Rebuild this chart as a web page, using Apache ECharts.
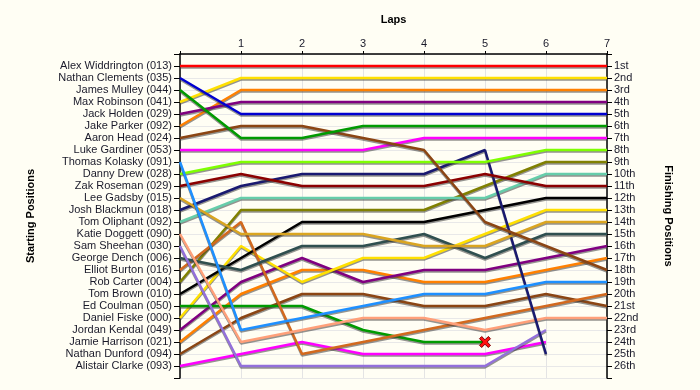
<!DOCTYPE html>
<html>
<head>
<meta charset="utf-8">
<script src="https://cdn.jsdelivr.net/npm/echarts@6/dist/echarts.min.js"></script>
<style>
html,body{margin:0;padding:0;background:#FFFEF4;}
#chart{width:700px;height:390px;}
</style>
</head>
<body>
<div id="chart"></div>
<script>
// Drivers in starting order (lap 0 position = index + 1)
const drivers = [
  'Alex Widdrington (013)', 'Nathan Clements (035)', 'James Mulley (044)', 'Max Robinson (041)',
  'Jack Holden (029)', 'Jake Parker (092)', 'Aaron Head (024)', 'Luke Gardiner (053)',
  'Thomas Kolasky (091)', 'Danny Drew (028)', 'Zak Roseman (029)', 'Lee Gadsby (015)',
  'Josh Blackmun (018)', 'Tom Oliphant (092)', 'Katie Doggett (090)', 'Sam Sheehan (030)',
  'George Dench (006)', 'Elliot Burton (016)', 'Rob Carter (004)', 'Tom Brown (010)',
  'Ed Coulman (050)', 'Daniel Fiske (000)', 'Jordan Kendal (049)', 'Jamie Harrison (021)',
  'Nathan Dunford (094)', 'Alistair Clarke (093)'
];
const lapTicks = [1, 2, 3, 4, 5, 6, 7];
const finishLabels = ['1st','2nd','3rd','4th','5th','6th','7th','8th','9th','10th','11th','12th','13th',
  '14th','15th','16th','17th','18th','19th','20th','21st','22nd','23rd','24th','25th','26th'];

// Positions per lap, one value per driver (same order as drivers); null = retired
const startPos = [1,2,3,4,5,6,7,8,9,10,11,12,13,14,15,16,17,18,19,20,21,22,23,24,25,26];
const lap1Pos = [1,5,7,2,4,3,6,8,23,9,10,15,11,12,24,26,18,14,13,17,21,16,19,20,22,25];
const lap2Pos = [1,5,7,2,4,3,6,8,22,9,11,15,10,12,23,26,16,25,13,14,21,19,17,18,20,24];
const lap3Pos = [1,5,6,2,4,3,7,8,21,9,11,15,10,12,22,26,16,24,13,14,23,17,19,18,20,25];
const lap4Pos = [1,5,6,2,4,3,8,7,20,9,11,16,10,12,22,26,15,23,13,14,24,17,18,19,21,25];
const lap5Pos = [1,5,6,2,4,3,14,7,20,9,10,16,8,12,23,26,17,22,11,13,24,15,18,19,21,25];
const lap6Pos = [1,5,6,2,4,3,16,7,19,8,11,14,25,10,22,23,15,21,9,12,null,13,17,18,20,24];
const lap7Pos = [1,5,6,2,4,3,18,7,19,8,11,14,null,10,22,null,15,20,9,12,null,13,16,17,21,null];
const crashed = ['Ed Coulman (050)'];

// Styles
const palette = ['#FF0000','#0000D0','#009A00','#FFE000','#800080','#FF8000','#8B4513','#FF00FF',
  '#1E90FF','#7FFF00','#8B0000','#DAA520','#191970','#66CDAA','#FFA07A','#9370DB',
  '#2F4F4F','#D2691E','#808000','#000000','#009A00','#FFE000','#800080','#FF8000','#8B4513','#FF00FF'];

const allLaps = [startPos, lap1Pos, lap2Pos, lap3Pos, lap4Pos, lap5Pos, lap6Pos, lap7Pos];
const crossPath = 'path://M0,2 L2,0 L5,3 L8,0 L10,2 L7,5 L10,8 L8,10 L5,7 L2,10 L0,8 L3,5 Z';

const series = drivers.map((name, i) => {
  const pts = [];
  allLaps.forEach((lp, lap) => { if (lp[i] != null) pts.push([lap, lp[i]]); });
  const isCrash = crashed.includes(name);
  const data = pts.map((p, k) => {
    if (isCrash && k === pts.length - 1) {
      return { value: p, symbol: crossPath, symbolSize: 11,
        itemStyle: { color: '#FF1010', borderColor: '#7A0000', borderWidth: 1 } };
    }
    return p;
  });
  return {
    name: name,
    type: 'line',
    data: data,
    symbol: 'none',
    showSymbol: isCrash,
    yAxisIndex: 0,
    lineStyle: { color: palette[i], width: 2.5, shadowColor: 'rgba(60,60,60,0.55)', shadowOffsetY: 1.5, shadowBlur: 0 },
    itemStyle: { color: palette[i] },
    z: 2 + (26 - i) * 0.01,
    silent: true,
    animation: false
  };
});

const chart = echarts.init(document.getElementById('chart'), null, { renderer: 'canvas' });
const labelFont = { fontFamily: 'Liberation Sans', fontSize: 11, color: '#1a1a2a' };
const nameFont = { fontFamily: 'Liberation Sans', fontSize: 11, fontWeight: 'bold', color: '#000' };

chart.setOption({
  backgroundColor: '#FFFEF4',
  animation: false,
  grid: { left: 180, right: 93, top: 54, bottom: 12 },
  xAxis: {
    type: 'value', position: 'top', min: 0, max: 7, interval: 1,
    name: 'Laps', nameLocation: 'middle', nameGap: 29, nameTextStyle: nameFont,
    axisLine: { show: true, onZero: false, lineStyle: { color: '#000', width: 1.5 } },
    axisTick: { show: true, length: 3, lineStyle: { color: '#000' } },
    axisLabel: Object.assign({ margin: 5, formatter: v => (lapTicks.includes(v) ? String(v) : '') }, labelFont),
    splitLine: { show: true, lineStyle: { color: '#E4E4E4', width: 1 } }
  },
  yAxis: [
    {
      type: 'value', inverse: true, min: 0, max: 27, interval: 1, position: 'left',
      name: 'Starting Positions', nameLocation: 'middle', nameGap: 144, nameRotate: 90, nameTextStyle: nameFont,
      axisLine: { show: true, onZero: false, lineStyle: { color: '#000', width: 1.5 } },
      axisTick: { show: true, length: 6, lineStyle: { color: '#000' } },
      axisLabel: Object.assign({ margin: 8, formatter: v => drivers[v - 1] || '' }, labelFont),
      splitLine: { show: true, lineStyle: { color: '#E8E8E8', width: 1 } }
    },
    {
      type: 'value', inverse: true, min: 0, max: 27, interval: 1, position: 'right',
      name: 'Finishing Positions', nameLocation: 'middle', nameGap: 56, nameRotate: -90, nameTextStyle: nameFont,
      axisLine: { show: true, onZero: false, lineStyle: { color: '#000', width: 1.5 } },
      axisTick: { show: true, length: 5, lineStyle: { color: '#000' } },
      axisLabel: Object.assign({ margin: 7, formatter: v => finishLabels[v - 1] || '' }, labelFont),
      splitLine: { show: false }
    }
  ],
  series: series
});
</script>
</body>
</html>
